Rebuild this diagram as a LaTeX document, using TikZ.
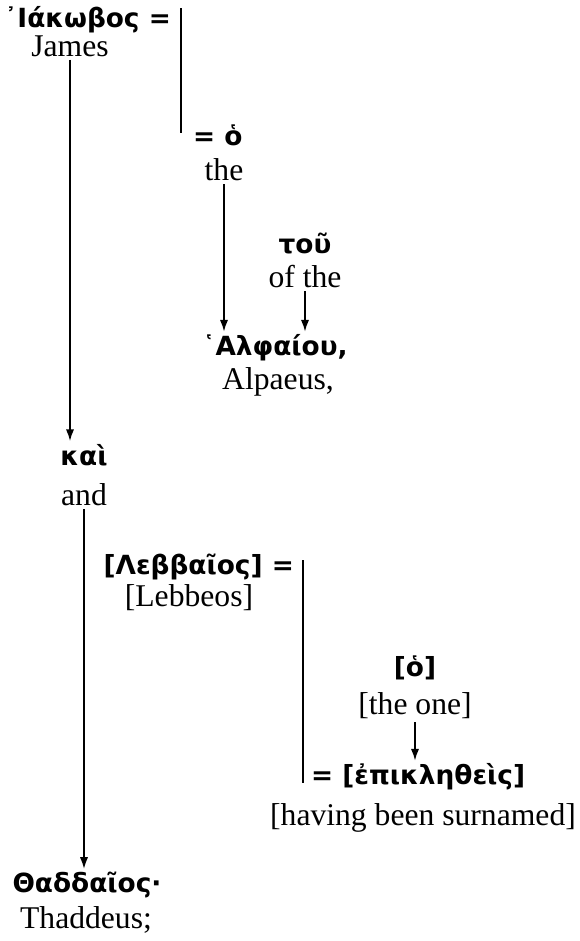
\documentclass[tikz,border=0pt]{standalone}
\usepackage{fontspec}
\setmainfont{Liberation Serif}
\newfontfamily\grkfont{DejaVu Sans}[BoldFont={DejaVu Sans Bold}]
\usepackage{tikz}
\usetikzlibrary{arrows.meta,calc}

\begin{document}
\begin{tikzpicture}[
  grk/.style={inner sep=2pt,font=\grkfont\bfseries\fontsize{22.5}{26}\selectfont},
  eng/.style={inner sep=2pt,font=\fontsize{27}{30}\selectfont},
  arr/.style={-{Latex[length=10pt,width=7pt]}},
  line width=1.3pt]
\useasboundingbox (0cm,0cm) rectangle (17.37cm,-28.23cm);
\node[grk,left] (1) at (5.22 cm,-0.6cm) {᾿Ιάκωβος =};
\node[eng] (2) at (2.1 cm,-1.38cm) {James};
\coordinate (19) at (5.43 cm,-0.24cm);
\coordinate (20) at (5.43 cm,-3.99cm);
\draw[black] (19) -- (20);
\node[grk,right] (3) at (5.7 cm,-4.05cm) {= ὁ};
\node[eng] (4) at (6.72 cm,-5.1cm) {the};
\node[grk] (5) at (9.15 cm,-7.29cm) {τοῦ};
\node[eng] (6) at (9.15 cm,-8.31cm) {of the};
\node[grk] (7) at (8.25 cm,-10.44cm) {῾Αλφαίου,};
\node[eng] (8) at (8.34 cm,-11.46cm) {Alpaeus,};
\draw[black,arr] (4.south) -- (4.south |- 7.north);
\draw[black,arr] (6.south) -- (6.south |- 7.north);
\node[grk] (9) at (2.52 cm,-13.65cm) {καὶ};
\node[eng] (10) at (2.52 cm,-14.85cm) {and};
\draw[black,arr] (2.south) -- (2.south |- 9.north);
\node[grk,left] (11) at (8.91 cm,-17.01cm) {[Λεββαῖος] =};
\node[eng] (12) at (5.67 cm,-17.94cm) {[Lebbeos]};
\coordinate (21) at (9.09 cm,-16.8cm);
\coordinate (22) at (9.09 cm,-23.49cm);
\draw[black] (21) -- (22);
\node[grk] (13) at (12.45 cm,-20.04cm) {[ὁ]};
\node[eng] (14) at (12.45 cm,-21.18cm) {[the one]};
\node[grk,right] (15) at (9.24 cm,-23.31cm) {= [ἐπικληθεὶς]};
\node[eng] (16) at (12.69 cm,-24.54cm) {[having been surnamed]};
\draw[black,arr] (14.south) -- (14.south |- 15.north);
\node[grk] (17) at (2.61 cm,-26.55cm) {Θαδδαῖος·};
\node[eng] (18) at (2.58 cm,-27.6cm) {Thaddeus;};
\draw[black,arr] (10.south) -- (10.south |- 17.north);
\end{tikzpicture}
\end{document}
